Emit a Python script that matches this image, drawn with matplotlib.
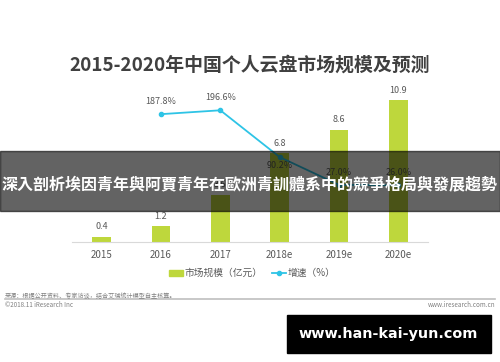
import matplotlib
matplotlib.use('Agg')
import matplotlib.pyplot as plt
from matplotlib.patches import Rectangle
from matplotlib.lines import Line2D

plt.rcParams['font.family'] = ['Noto Sans CJK SC', 'DejaVu Sans']

years = ['2015', '2016', '2017', '2018e', '2019e', '2020e']
market = [0.4, 1.2, 3.6, 6.8, 8.6, 10.9]
growth_years = [1, 2, 3, 4, 5]
growth = [187.8, 196.6, 90.2, 27.0, 26.0]

bar_color = '#BED73C'
line_color = '#2EC4E6'
label_color = '#595959'

fig = plt.figure(figsize=(5, 3.62), dpi=100)
ax = fig.add_axes([0.144, 0.332, 0.712, 0.405])
ax2 = ax.twinx()

x = list(range(len(years)))
ax.bar(x, market, width=0.31, color=bar_color, zorder=2)
for xi, v in zip(x, market):
    ax.annotate(f'{v}', (xi, v), xytext=(0, 4), textcoords='offset points',
                ha='center', va='bottom', fontsize=6.5, color=label_color)

ax2.plot(growth_years, growth, color=line_color, lw=1.3, marker='o', ms=3, zorder=3)
for xi, v in zip(growth_years, growth):
    # the 2018e label sits under its point, clear of the bar label
    below = xi == 3
    ax2.annotate(f'{v:.1f}%', (xi, v), xytext=(0, -3 if below else 6),
                 textcoords='offset points', ha='center',
                 va='top' if below else 'bottom', fontsize=6.5, color=label_color)

ax.set_xlim(-0.5, 5.5)
ax.set_ylim(0, 11.28)
ax2.set_ylim(-102.5, 230.9)
for a in (ax, ax2):
    for s in a.spines.values():
        s.set_visible(False)
    a.set_yticks([])
ax.spines['bottom'].set_visible(True)
ax.spines['bottom'].set_color('#D9D9D9')
ax.set_xticks(x)
ax.set_xticklabels(years, fontsize=7, color=label_color)
ax.tick_params(axis='x', length=0, pad=6)

fig.text(0.5, 0.82, '2015-2020年中国个人云盘市场规模及预测', ha='center', va='center',
         fontsize=13.6, fontweight='bold', color='#404040')

handles = [Rectangle((0, 0), 1, 1, color=bar_color),
           Line2D([], [], color=line_color, marker='o', ms=3, lw=1.3)]
fig.legend(handles, ['市场规模（亿元）', '增速（%）'], loc='center',
           bbox_to_anchor=(0.505, 0.245), ncol=2, frameon=False, fontsize=7,
           labelcolor=label_color, handlelength=1.4, handletextpad=0.2, columnspacing=1.0)

fig.text(0.01, 0.182, '来源：根据公开资料、专家访谈，结合艾瑞统计模型自主核算。',
         fontsize=4.4, color='#7F7F7F', va='center')
fig.add_artist(Line2D([0.01, 0.99], [0.175, 0.175], color='#BFBFBF', lw=1.2))
fig.text(0.01, 0.157, '©2018.11 iResearch Inc', fontsize=4.5, color='#7F7F7F', va='center')
fig.text(0.99, 0.157, 'www.iresearch.com.cn', fontsize=4.5, color='#7F7F7F', va='center', ha='right')

# dark banner across the chart
fig.add_artist(Rectangle((0, 1 - 211 / 362), 1, 60 / 362, transform=fig.transFigure,
                         color='black', alpha=0.61, zorder=10))
fig.text(0.5, 1 - 184 / 362, '深入剖析埃因青年與阿賈青年在歐洲青訓體系中的競爭格局與發展趨勢',
         ha='center', va='center', fontsize=11.5, fontweight='bold', color='white',
         family=['Noto Sans CJK TC', 'DejaVu Sans'], zorder=11)

# watermark box
fig.add_artist(Rectangle((287 / 500, 1 - 353 / 362), 204 / 500, 38 / 362,
                         transform=fig.transFigure, color='black', zorder=10))
fig.text(388 / 500, 1 - 334 / 362, 'www.han-kai-yun.com', ha='center', va='center',
         fontsize=10.4, fontweight='bold', color='white', family=['DejaVu Sans'], zorder=11)

fig.savefig('out.png', dpi=100)
